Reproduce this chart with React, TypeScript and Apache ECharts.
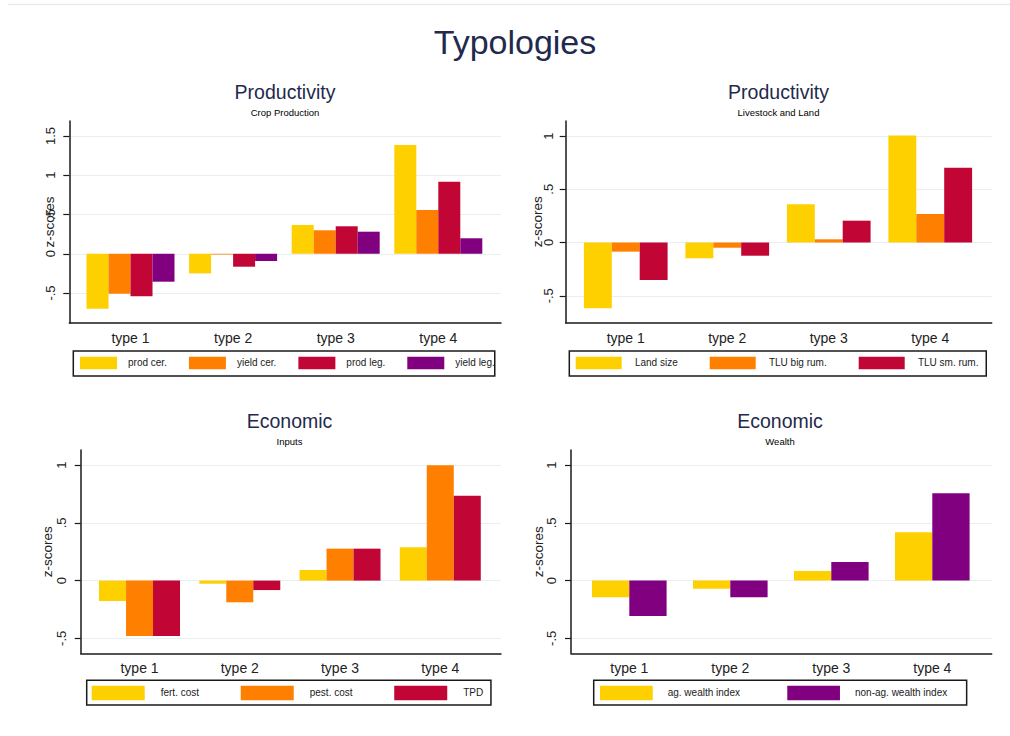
import React, { useEffect, useRef } from 'react';
import * as echarts from 'echarts';

// ---------- data ----------
const categories = ['type 1', 'type 2', 'type 3', 'type 4'];

// Productivity – Crop Production
const cropNames = ['prod cer.', 'yield cer.', 'prod leg.', 'yield leg.'];
const prodCer = [-0.7, -0.25, 0.366, 1.385];
const yieldCer = [-0.509, -0.01, 0.299, 0.557];
const prodLeg = [-0.542, -0.165, 0.35, 0.918];
const yieldLeg = [-0.356, -0.092, 0.281, 0.197];

// Productivity – Livestock and Land
const livestockNames = ['Land size', 'TLU big rum.', 'TLU sm. rum.'];
const landSize = [-0.618, -0.148, 0.359, 1.005];
const tluBig = [-0.086, -0.049, 0.03, 0.268];
const tluSmall = [-0.352, -0.124, 0.205, 0.703];

// Economic – Inputs
const inputNames = ['fert. cost', 'pest. cost', 'TPD'];
const fertCost = [-0.177, -0.027, 0.092, 0.289];
const pestCost = [-0.48, -0.188, 0.277, 1.0];
const tpd = [-0.48, -0.082, 0.277, 0.736];

// Economic – Wealth
const wealthNames = ['ag. wealth index', 'non-ag. wealth index'];
const agWealth = [-0.145, -0.07, 0.083, 0.419];
const nonAgWealth = [-0.307, -0.145, 0.161, 0.757];

// tick labels
const ticksCrop = [-0.5, 0, 0.5, 1, 1.5];
const ticksOther = [-0.5, 0, 0.5, 1];

// ---------- styling / layout ----------
const YEL = '#FFD000';
const ORA = '#FF8000';
const RED = '#C10534';
const PUR = '#800080';
const FONT = '"Liberation Sans", Arial, sans-serif';
const TITLE_COLOR = '#1F2A4D';

const panels = [
  {
    title: 'Productivity', subtitle: 'Crop Production', titleX: 285, titleY: 91.5, subY: 112,
    names: cropNames, values: [prodCer, yieldCer, prodLeg, yieldLeg], colors: [YEL, ORA, RED, PUR],
    ticks: ticksCrop, min: -0.882, max: 1.691,
    frame: { left: 69.3, top: 121, width: 431.7, height: 202 },
    bars: { left: 79.2, width: 410.4 }, barWidth: 22,
    labelMargin: 12, nameGap: 12.5,
    legend: { left: 73.3, top: 351, itemWidth: 37, itemHeight: 12.6, itemGap: 22, textPad: 6, padding: [5.7, 0, 6.7, 6.7] },
  },
  {
    title: 'Productivity', subtitle: 'Livestock and Land', titleX: 778.5, titleY: 91.5, subY: 112,
    names: livestockNames, values: [landSize, tluBig, tluSmall], colors: [YEL, ORA, RED],
    ticks: ticksOther, min: -0.753, max: 1.141,
    frame: { left: 565.7, top: 121, width: 426, height: 201.7 },
    bars: { left: 575, width: 406 }, barWidth: 27.9,
    labelMargin: 11, nameGap: 21,
    legend: { left: 569.3, top: 351, itemWidth: 46, itemHeight: 12.6, itemGap: 32, textPad: 8.2, padding: [5.7, 7.8, 6.7, 6.4] },
  },
  {
    title: 'Economic', subtitle: 'Inputs', titleX: 289.5, titleY: 421, subY: 441.5,
    names: inputNames, values: [fertCost, pestCost, tpd], colors: [YEL, ORA, RED],
    ticks: ticksOther, min: -0.63, max: 1.132,
    frame: { left: 80.7, top: 450, width: 420.3, height: 203.3 },
    bars: { left: 89.4, width: 401 }, barWidth: 27,
    labelMargin: 12.5, nameGap: 26,
    legend: { left: 86.7, top: 680.3, itemWidth: 53, itemHeight: 14.6, itemGap: 41.7, textPad: 11, padding: [5.4, 7.7, 4.7, 5] },
  },
  {
    title: 'Economic', subtitle: 'Wealth', titleX: 780, titleY: 421, subY: 441.5,
    names: wealthNames, values: [agWealth, nonAgWealth], colors: [YEL, PUR],
    ticks: ticksOther, min: -0.63, max: 1.132,
    frame: { left: 571, top: 450, width: 420.7, height: 203.3 },
    bars: { left: 578.8, width: 404 }, barWidth: 37.3,
    labelMargin: 13, nameGap: 26,
    legend: { left: 593.7, top: 680.3, itemWidth: 52.7, itemHeight: 14.6, itemGap: 47.3, textPad: 10, padding: [5.4, 19.4, 4.7, 6.3] },
  },
];

const fmtTick = (v: number) => String(v).replace(/^(-?)0\./, '$1.');

function buildOption() {
  const grid: any[] = [];
  const xAxis: any[] = [];
  const yAxis: any[] = [];
  const series: any[] = [];
  const legend: any[] = [];
  const graphic: any[] = [
    { type: 'line', shape: { x1: 8, y1: 4.5, x2: 1010, y2: 4.5 }, style: { stroke: '#E4EBEE', lineWidth: 1.5 }, silent: true },
    {
      type: 'text', x: 515, y: 42,
      style: { text: 'Typologies', fill: TITLE_COLOR, font: `34px ${FONT}`, align: 'center', verticalAlign: 'middle' },
    },
  ];

  panels.forEach((p, i) => {
    const fi = 2 * i;
    const bi = 2 * i + 1;
    grid.push({ left: p.frame.left, top: p.frame.top, width: p.frame.width, height: p.frame.height });
    grid.push({ left: p.bars.left, top: p.frame.top, width: p.bars.width, height: p.frame.height });

    // frame axes
    xAxis.push({
      type: 'value', gridIndex: fi, min: 0, max: 1,
      axisLine: { show: true, onZero: false, lineStyle: { color: '#1a1a1a', width: 1.5 } },
      axisTick: { show: false }, axisLabel: { show: false }, splitLine: { show: false },
    });
    yAxis.push({
      type: 'value', gridIndex: fi, min: p.min, max: p.max,
      name: 'z-scores', nameLocation: 'middle', nameGap: p.nameGap, nameMoveOverlap: false,
      nameTextStyle: { fontSize: 13.5, color: '#222', fontFamily: FONT },
      axisLine: { show: true, onZero: false, lineStyle: { color: '#1a1a1a', width: 1.5 } },
      axisTick: { show: true, length: 6, customValues: p.ticks, lineStyle: { color: '#1a1a1a', width: 1.2 } },
      axisLabel: {
        show: true, customValues: p.ticks, rotate: 90, margin: p.labelMargin,
        fontSize: 13, color: '#222', fontFamily: FONT, formatter: fmtTick,
      },
      splitLine: { show: true, lineStyle: { color: '#E8EFF1', width: 1 } },
    });

    // bar axes
    xAxis.push({
      type: 'category', gridIndex: bi, data: categories,
      axisLine: { show: false }, axisTick: { show: false },
      axisLabel: { fontSize: 14, color: '#222', margin: 8, fontFamily: FONT },
    });
    yAxis.push({ type: 'value', gridIndex: bi, min: p.min, max: p.max, show: false });

    p.names.forEach((name, j) => {
      series.push({
        type: 'bar', name, data: p.values[j], xAxisIndex: bi, yAxisIndex: bi,
        barWidth: p.barWidth, barGap: '0%',
        itemStyle: { color: p.colors[j] },
        emphasis: { disabled: true },
      });
    });

    const L = p.legend;
    legend.push({
      data: p.names, left: L.left, top: L.top, orient: 'horizontal',
      itemWidth: L.itemWidth, itemHeight: L.itemHeight, itemGap: L.itemGap,
      padding: L.padding, borderColor: '#1a1a1a', borderWidth: 1.5,
      icon: 'rect', selectedMode: false,
      textStyle: { fontSize: 10, color: '#1a1a1a', fontFamily: FONT, padding: [0, 0, 0, L.textPad] },
    });

    graphic.push({
      type: 'text', x: p.titleX, y: p.titleY,
      style: { text: p.title, fill: TITLE_COLOR, font: `19.5px ${FONT}`, align: 'center', verticalAlign: 'middle' },
    });
    graphic.push({
      type: 'text', x: p.titleX, y: p.subY,
      style: { text: p.subtitle, fill: '#000', font: `9.5px ${FONT}`, align: 'center', verticalAlign: 'middle' },
    });
  });

  return {
    animation: false,
    backgroundColor: '#ffffff',
    textStyle: { fontFamily: FONT },
    grid, xAxis, yAxis, series, legend, graphic,
  };
}

export default function App() {
  const ref = useRef<HTMLDivElement>(null);
  useEffect(() => {
    if (!ref.current) return;
    const chart = echarts.init(ref.current, undefined, { renderer: 'svg' });
    chart.setOption(buildOption() as any);
    return () => chart.dispose();
  }, []);
  return (
    <div
      ref={ref}
      style={{ position: 'fixed', left: 0, top: 0, width: 1010, height: 736, background: '#fff' }}
    />
  );
}
